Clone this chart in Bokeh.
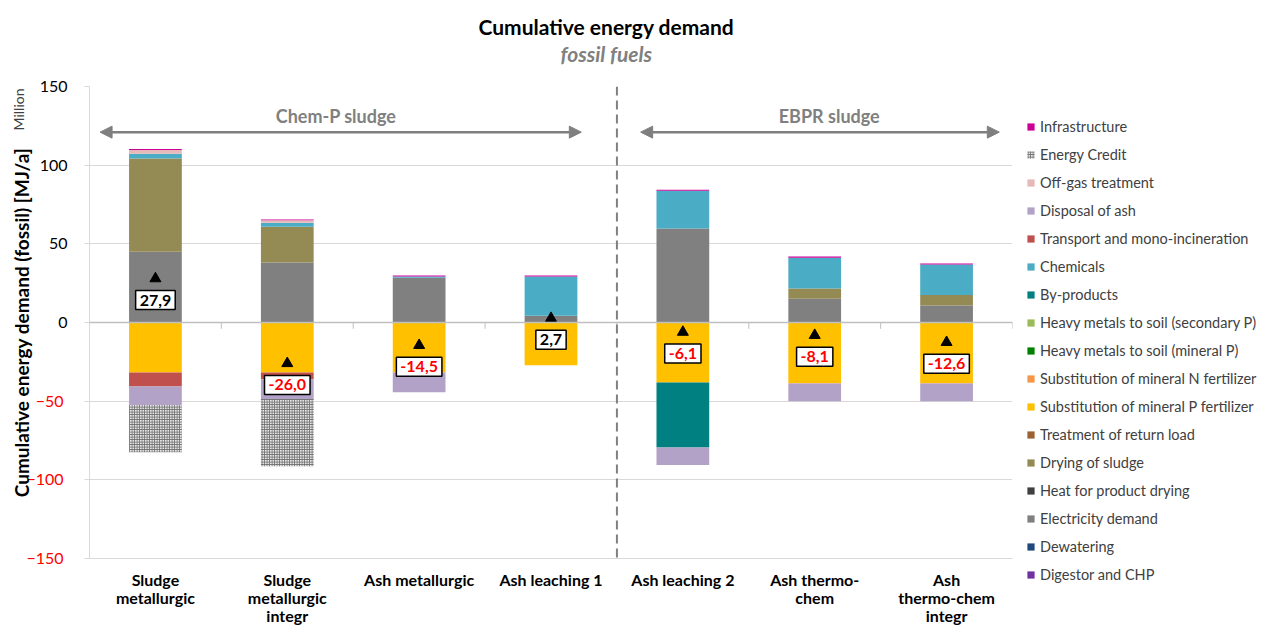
import math
from bokeh.plotting import figure
from bokeh.models import (ColumnDataSource, Span, Arrow, NormalHead, Label,
                          Legend, LegendItem, Title, FixedTicker, Range1d, LinearAxis)
from bokeh.core.properties import value
from bokeh.embed import file_html
from bokeh.resources import INLINE

# ---------------- data (million MJ/a) ----------------
categories = ["Sludge\nmetallurgic", "Sludge\nmetallurgic\nintegr", "Ash metallurgic",
              "Ash leaching 1", "Ash leaching 2", "Ash thermo-\nchem", "Ash\nthermo-chem\nintegr"]
group_names = ["Chem-P sludge", "EBPR sludge"]

digestor_chp        = [0, 0, 0, 0, 0, 0, 0]
dewatering          = [0, 0, 0, 0, 0, 0, 0]
electricity_demand  = [45.0, 38.2, 28.4, 4.3, 59.8, 15.1, 10.8]
heat_product_drying = [0, 0, 0, 0, 0, 0, 0]
drying_of_sludge    = [59.3, 22.7, 0, 0, 0, 6.5, 6.6]
treatment_return    = [0, 0, 0, 0, 0, 0, 0]
subst_mineral_p     = [-31.8, -31.8, -31.8, -27.2, -38.2, -38.4, -38.4]
subst_mineral_n     = [0, 0, 0, 0, 0, -0.4, -0.4]
hm_soil_mineral     = [0, 0, 0, 0, 0, 0, 0]
hm_soil_secondary   = [0, 0, 0, 0, 0, 0, 0]
by_products         = [0, 0, 0, 0, -41.3, 0, 0]
chemicals           = [3.0, 2.5, 0.9, 25.0, 24.0, 19.6, 19.5]
transport_mono      = [-8.9, -4.3, 0, 0, 0, 0, 0]
disposal_of_ash     = [-11.8, -12.5, -12.6, 0, -11.0, -11.3, -11.3]
off_gas_treatment   = [2.4, 1.6, 0, 0, 0, 0, 0]
energy_credit       = [-29.9, -42.8, 0, 0, 0, 0, 0]
infrastructure      = [0.6, 0.4, 0.6, 0.6, 0.6, 0.8, 0.6]

net_values = [27.9, -26.0, -14.5, 2.7, -6.1, -8.1, -12.6]

y_ticks = [-150, -100, -50, 0, 50, 100, 150]

# stacking order (bottom -> top), name, data, colour
series = [
    ("Digestor and CHP", digestor_chp, "#7030A0"),
    ("Dewatering", dewatering, "#1F497D"),
    ("Electricity demand", electricity_demand, "#808080"),
    ("Heat for product drying", heat_product_drying, "#404040"),
    ("Drying of sludge", drying_of_sludge, "#948A54"),
    ("Treatment of return load", treatment_return, "#9C6133"),
    ("Substitution of mineral P fertilizer", subst_mineral_p, "#FFC000"),
    ("Substitution of mineral N fertilizer", subst_mineral_n, "#F79646"),
    ("Heavy metals to soil (mineral P)", hm_soil_mineral, "#008000"),
    ("Heavy metals to soil (secondary P)", hm_soil_secondary, "#9BBB59"),
    ("By-products", by_products, "#008080"),
    ("Chemicals", chemicals, "#4BACC6"),
    ("Transport and mono-incineration", transport_mono, "#C0504D"),
    ("Disposal of ash", disposal_of_ash, "#B3A2C7"),
    ("Off-gas treatment", off_gas_treatment, "#E6B9B8"),
    ("Energy Credit", energy_credit, "hatch"),
    ("Infrastructure", infrastructure, "#CC0099"),
]

FONT = "Lato"
xs = list(range(len(categories)))
neg_ticks = [t for t in y_ticks if t < 0]

p = figure(frame_width=923, frame_height=472, output_backend="svg", toolbar_location=None,
           x_range=Range1d(-0.5, len(categories) - 0.5), y_range=Range1d(-150, 150),
           min_border_left=0, min_border_right=0, min_border_top=0, min_border_bottom=0)
p.outline_line_color = None
p.background_fill_color = "white"

# titles
sub = Title(text="fossil fuels", text_font=FONT, text_font_style="bold italic",
            text_font_size="21px", text_color="#808080", align="left", offset=471,
            vertical_align="top", standoff=38)
main = Title(text="Cumulative energy demand", text_font=FONT, text_font_style="bold",
             text_font_size="21px", text_color="black", align="left", offset=389,
             vertical_align="bottom", standoff=-34)
p.add_layout(sub, "above")
p.add_layout(main, "above")
p.add_layout(Title(text=" ", text_font_size="1px", standoff=18), "above")  # top spacing

# grid/axes
p.xgrid.grid_line_color = None
p.ygrid.grid_line_color = "#D9D9D9"
p.ygrid.ticker = FixedTicker(ticks=y_ticks)

ya = p.yaxis[0]
ya.ticker = FixedTicker(ticks=y_ticks)
ya.major_label_overrides = {t: "" for t in neg_ticks}
ya.major_label_text_font = FONT
ya.major_label_text_font_size = "16px"
ya.major_label_text_color = "black"
ya.major_label_standoff = 17
ya.major_tick_out = 5
ya.major_tick_in = 0
ya.minor_tick_line_color = None
ya.major_tick_line_color = "#D9D9D9"
ya.axis_line_color = "#D9D9D9"

# second (outer) axis: red negative tick labels + axis title
yb = LinearAxis(ticker=FixedTicker(ticks=neg_ticks), axis_line_color=None,
                major_tick_line_color=None, minor_tick_line_color=None,
                major_tick_out=0, major_tick_in=0, major_label_standoff=-27,
                major_label_text_color="#FF0000", major_label_text_font=FONT,
                major_label_text_font_size="16px",
                axis_label="Cumulative energy demand (fossil) [MJ/a]",
                axis_label_text_font=FONT, axis_label_text_font_style="bold",
                axis_label_text_font_size="19px", axis_label_text_color="black",
                axis_label_standoff=-10)
p.add_layout(yb, "left")

million = Title(text="Million", text_font=FONT, text_font_style="normal",
                text_font_size="14px", text_color="#404040", align="right",
                offset=2, vertical_align="bottom", standoff=-39)
p.add_layout(million, "left")
p.add_layout(Title(text=" ", text_font_size="1px", standoff=4), "left")  # left spacing

p.xaxis.ticker = FixedTicker(ticks=xs)
p.xaxis.major_label_overrides = {i: c for i, c in zip(xs, categories)}
p.xaxis.major_label_text_font = FONT
p.xaxis.major_label_text_font_style = "bold"
p.xaxis.major_label_text_font_size = "16px"
p.xaxis.major_label_text_line_height = 0.95
p.xaxis.major_label_text_color = "black"
p.xaxis.major_label_standoff = 5
p.xaxis.major_tick_line_color = None
p.xaxis.minor_tick_line_color = None
p.xaxis.axis_line_color = "#D9D9D9"

# zero line and category separators
p.add_layout(Span(location=0, dimension="width", line_color="#BFBFBF", line_width=1.5))
sep = [i + 0.5 for i in xs]
p.segment(x0=sep, y0=[0] * len(sep), x1=sep, y1=[-4] * len(sep), line_color="#BFBFBF", line_width=1)

# stacked bars
pos_base = [0.0] * len(xs)
neg_base = [0.0] * len(xs)
renderers = {}
for name, vals, color in series:
    bottoms, tops = [], []
    for i, v in enumerate(vals):
        if v >= 0:
            bottoms.append(pos_base[i]); tops.append(pos_base[i] + v); pos_base[i] += v
        else:
            bottoms.append(neg_base[i]); tops.append(neg_base[i] + v); neg_base[i] += v
    src = ColumnDataSource(dict(x=xs, bottom=bottoms, top=tops))
    if color == "hatch":
        r = p.vbar(x="x", bottom="bottom", top="top", width=0.4, source=src,
                   fill_color="#E6E6E6", line_color=None, hatch_pattern="cross",
                   hatch_color="#6E6E6E", hatch_scale=2.5, hatch_weight=1)
    else:
        r = p.vbar(x="x", bottom="bottom", top="top", width=0.4, source=src,
                   fill_color=color, line_color=None)
    renderers[name] = r

# separator between sludge groups
p.add_layout(Span(location=3.5, dimension="height", line_color="#808080",
                  line_dash="9 5", line_width=2))

# group arrows + labels
arrow_col = "#7F7F7F"
for (x0, x1, tx), gname in zip([(-0.42, 3.23, 1.37), (3.68, 6.40, 5.11)], group_names):
    p.add_layout(Arrow(start=NormalHead(size=12, fill_color=arrow_col, line_color=arrow_col),
                       end=NormalHead(size=12, fill_color=arrow_col, line_color=arrow_col),
                       x_start=x0, y_start=121, x_end=x1, y_end=121,
                       line_color=arrow_col, line_width=2.5))
    p.add_layout(Label(x=tx, y=121, y_offset=5, text=gname, text_align="center",
                       text_baseline="bottom", text_font=FONT, text_font_style="bold",
                       text_font_size="18px", text_color="#808080"))

# net markers and labels
net_src = ColumnDataSource(dict(
    x=xs, y=net_values,
    text=[("%.1f" % v).replace(".", ",") for v in net_values],
    color=["black" if v >= 0 else "#FF0000" for v in net_values]))
p.scatter(x="x", y="y", source=net_src, marker="triangle", size=11,
          fill_color="black", line_color="black")
p.text(x="x", y="y", text="text", source=net_src, y_offset=12,
       text_align="center", text_baseline="top", text_color="color",
       text_font=value(FONT), text_font_style="bold", text_font_size="16px",
       background_fill_color="white", border_line_color="black",
       border_line_width=1.5, padding=4)

# legend (reverse stacking order)
items = [LegendItem(label=name, renderers=[renderers[name]]) for name, _, _ in reversed(series)]
legend = Legend(items=items, location=(14, -30), margin=0, padding=5,
                glyph_width=9, glyph_height=9, label_height=28, spacing=0,
                label_standoff=5, label_text_font=FONT, label_text_font_size="14.5px",
                label_text_color="#404040", border_line_color=None,
                background_fill_alpha=0)
p.add_layout(legend, "right")

open("out.html", "w").write(file_html(p, INLINE))
